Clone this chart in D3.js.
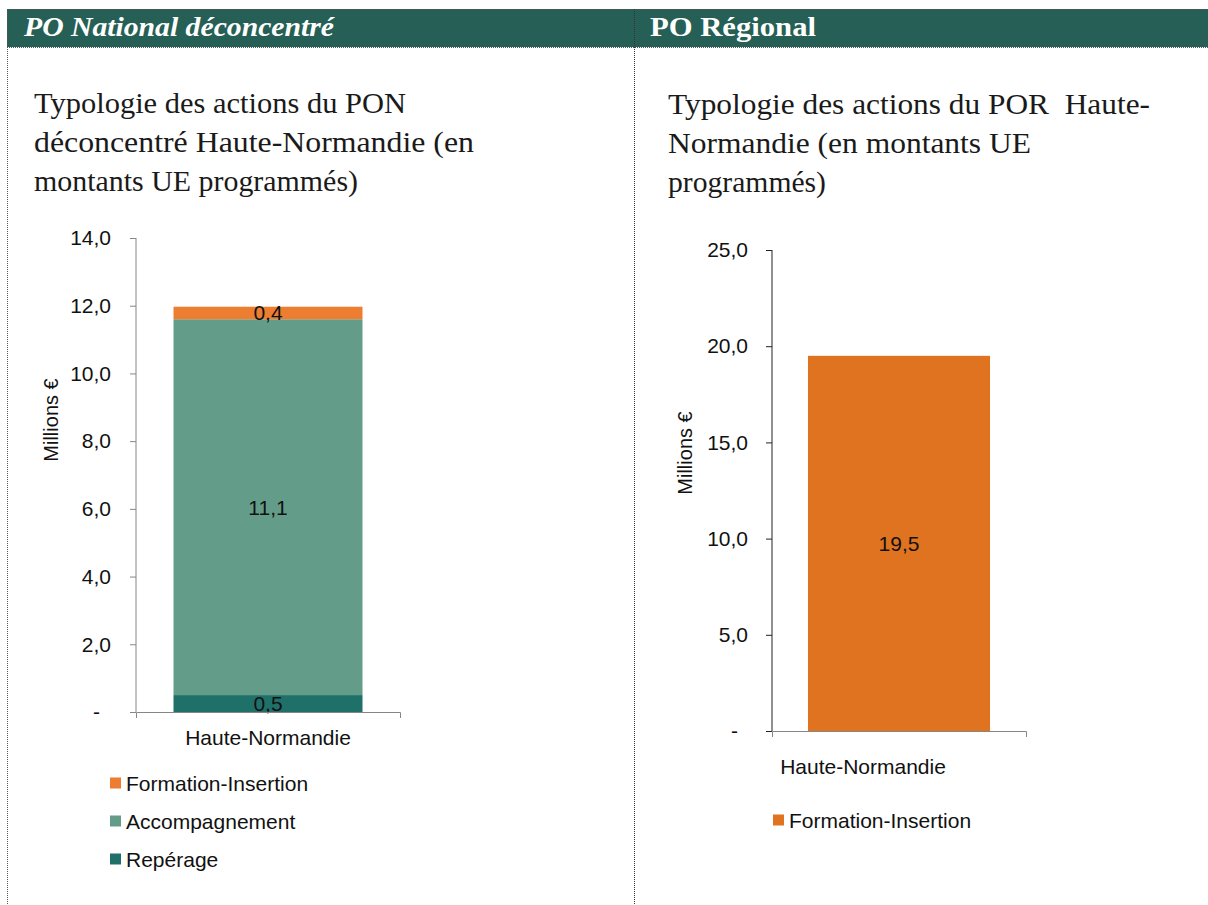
<!DOCTYPE html>
<html><head><meta charset="utf-8">
<script src="https://cdn.jsdelivr.net/npm/d3@7"></script>
<style>html,body{margin:0;padding:0;background:#fff;}svg{display:block;}</style>
</head><body>
<svg id="c" width="1208" height="905"></svg>
<script>
// ---- data ----
const categories = ["Haute-Normandie"];
const ponSeries = ["Repérage", "Accompagnement", "Formation-Insertion"];
const ponValues = [0.5, 11.1, 0.37];
const ponColors = ["#20706a", "#639d89", "#ec7d31"];
const ponTicks = [0, 2, 4, 6, 8, 10, 12, 14];
const porSeries = ["Formation-Insertion"];
const porValues = [19.5];
const porColors = ["#df7320"];
const porTicks = [0, 5, 10, 15, 20, 25];
const headers = ["PO National déconcentré", "PO Régional"];
const ponTitle = ["Typologie des actions du PON", "déconcentré Haute-Normandie (en", "montants UE programmés)"];
const porTitle = ["Typologie des actions du POR  Haute-", "Normandie (en montants UE", "programmés)"];
const yTitle = "Millions €";

const loc = d3.formatLocale({decimal: ",", thousands: " ", grouping: [3], currency: ["", " €"]});
const f1 = loc.format(".1f");
const tickFmt = d => d === 0 ? "-" : f1(d);

const svg = d3.select("#c");
const SANS = "'Liberation Sans', Arial, sans-serif";
const SERIF = "'Liberation Serif', 'Times New Roman', serif";
const FS = 21;

// ---- header band ----
svg.append("rect").attr("x", 7).attr("y", 9).attr("width", 1201).attr("height", 38).attr("fill", "#265f55");
function dline(x1, y1, x2, y2, col) {
  svg.append("line").attr("x1", x1).attr("y1", y1).attr("x2", x2).attr("y2", y2)
    .attr("stroke", col || "#555").attr("stroke-width", 1).attr("stroke-dasharray", "1,1");
}
dline(7, 9.5, 1208, 9.5);
dline(7, 47.5, 1208, 47.5);
dline(7.5, 9, 7.5, 905);
dline(634.5, 9, 634.5, 905, "#333");

svg.append("text").attr("x", 24).attr("y", 36).text(headers[0])
  .attr("font-family", SERIF).attr("font-style", "italic").attr("font-weight", "bold")
  .attr("font-size", 27).attr("fill", "#fff").attr("textLength", 310).attr("lengthAdjust", "spacingAndGlyphs");
svg.append("text").attr("x", 650).attr("y", 36).text(headers[1])
  .attr("font-family", SERIF).attr("font-weight", "bold")
  .attr("font-size", 27).attr("fill", "#fff").attr("textLength", 166).attr("lengthAdjust", "spacingAndGlyphs");

// ---- titles ----
const ponTitleW = [372, 440, 324];
const porTitleW = [482, 363, 158];
function title(lines, widths, x, y0) {
  lines.forEach((t, i) => {
    svg.append("text").attr("x", x).attr("y", y0 + i * 39).text(t)
      .style("white-space", "pre")
      .attr("font-family", SERIF).attr("font-size", 29).attr("fill", "#1a1a1a")
      .attr("textLength", widths[i]).attr("lengthAdjust", "spacingAndGlyphs");
  });
}
title(ponTitle, ponTitleW, 34, 113);
title(porTitle, porTitleW, 668, 114);

// ---- generic chart ----
function chart(opt) {
  const g = svg.append("g");
  const x = d3.scaleBand().domain(categories).range([opt.x0, opt.x1]).paddingInner(opt.pad).paddingOuter(opt.pad);
  const y = d3.scaleLinear().domain([0, opt.ymax]).range([opt.yb, opt.yt]);

  // bars (stacked)
  const row = {cat: categories[0]};
  opt.series.forEach((s, i) => row[s] = opt.values[i]);
  const stack = d3.stack().keys(opt.series)([row]);
  stack.forEach((layer, i) => {
    layer.forEach(d => {
      g.append("rect").attr("x", x(d.data.cat)).attr("width", x.bandwidth())
        .attr("y", y(d[1])).attr("height", y(d[0]) - y(d[1])).attr("fill", opt.colors[i]);
      g.append("text").attr("x", x(d.data.cat) + x.bandwidth() / 2).attr("y", (y(d[0]) + y(d[1])) / 2)
        .attr("text-anchor", "middle").attr("dominant-baseline", "central")
        .attr("font-family", SANS).attr("font-size", FS).attr("fill", "#111")
        .text(f1(opt.values[i]));
    });
  });

  // y axis
  const ya = g.append("g").attr("transform", `translate(${opt.x0},0)`)
    .call(d3.axisLeft(y).tickValues(opt.ticks).tickFormat(tickFmt).tickSize(6).tickPadding(opt.tpad));
  ya.selectAll("path,line").attr("stroke", opt.yAxisColor);
  ya.selectAll("text").attr("font-family", SANS).attr("font-size", FS).attr("fill", "#111");
  ya.selectAll(".tick").filter(d => d === 0).select("text").attr("dx", opt.zeroDx);
  ya.select(".domain").attr("d", `M0,${opt.yt}V${opt.yb}`);

  // x axis
  const xa = g.append("g").attr("transform", `translate(0,${opt.yb})`)
    .call(d3.axisBottom(x).tickSizeInner(0).tickSizeOuter(6).tickPadding(opt.xpad));
  xa.selectAll("path,line").attr("stroke", "#868686");
  xa.selectAll("text").attr("font-family", SANS).attr("font-size", FS).attr("fill", "#111").attr("dx", opt.xdx);

  // y title
  g.append("text").attr("transform", `translate(${opt.ytx},${opt.yty}) rotate(-90)`)
    .attr("text-anchor", "middle").attr("dominant-baseline", "central")
    .attr("font-family", SANS).attr("font-size", 20).attr("fill", "#111").text(yTitle);

  // legend (reverse order: top series first)
  const legItems = opt.series.map((s, i) => ({s, c: opt.colors[i]})).reverse();
  legItems.forEach((d, i) => {
    const ly = opt.ly + i * 38;
    g.append("rect").attr("x", opt.lx).attr("y", ly - 5.5).attr("width", 11).attr("height", 11).attr("fill", d.c);
    g.append("text").attr("x", opt.lx + 16).attr("y", ly).attr("dominant-baseline", "central")
      .attr("font-family", SANS).attr("font-size", FS).attr("fill", "#111").text(d.s);
  });
}

chart({x0: 136, x1: 400, pad: 0.1656, yb: 712, yt: 238, ymax: 14, ticks: ponTicks,
  series: ponSeries, values: ponValues, colors: ponColors, tpad: 19, zeroDx: -11,
  xpad: 18, xdx: 0, ytx: 51, yty: 420, lx: 110, ly: 783, yAxisColor: "#868686"});
chart({x0: 772, x1: 1026, pad: 0.165, yb: 731, yt: 250, ymax: 25, ticks: porTicks,
  series: porSeries, values: porValues, colors: porColors, tpad: 18, zeroDx: -10,
  xpad: 28, xdx: -36, ytx: 685, yty: 453, lx: 773, ly: 820, yAxisColor: "#222"});
</script>
</body></html>
